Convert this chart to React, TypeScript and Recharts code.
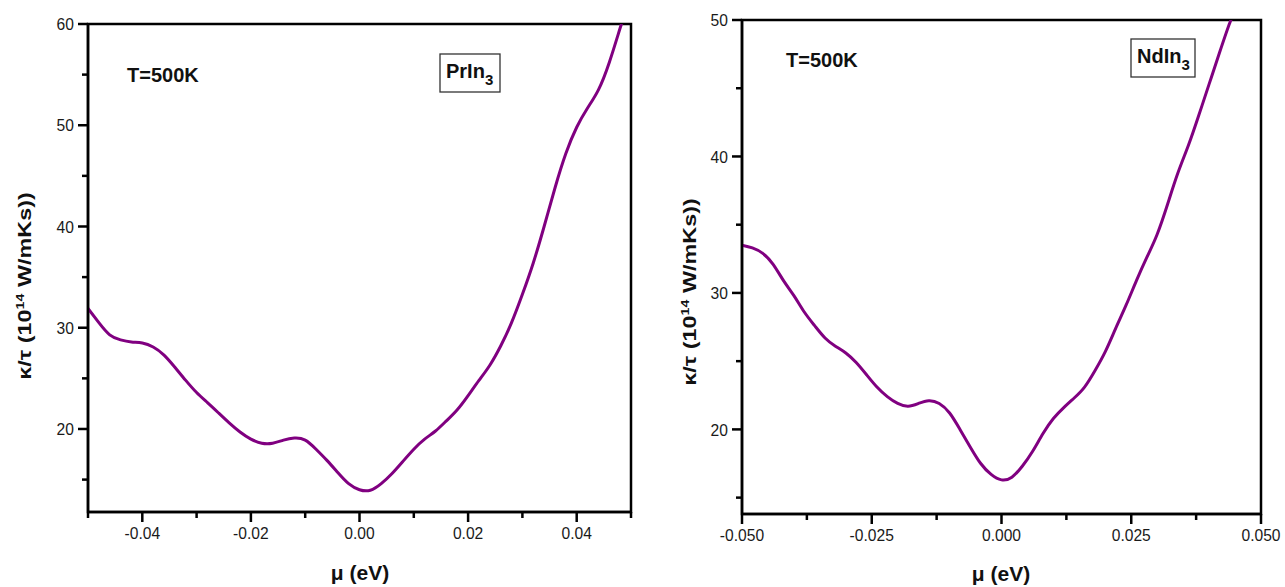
import React from 'react';
import { LineChart, Line, XAxis, YAxis, ReferenceArea } from 'recharts';

// ---------- PrIn3 panel ----------
const prMu = [
  -0.05, -0.048, -0.046, -0.044, -0.042, -0.04, -0.038, -0.036, -0.034, -0.032,
  -0.03, -0.028, -0.026, -0.024, -0.022, -0.02, -0.018, -0.016, -0.014, -0.012,
  -0.01, -0.008, -0.006, -0.004, -0.002, 0, 0.002, 0.004, 0.006, 0.008,
  0.01, 0.012, 0.014, 0.016, 0.018, 0.02, 0.022, 0.024, 0.026, 0.028,
  0.03, 0.032, 0.034, 0.036, 0.038, 0.04, 0.042, 0.044, 0.046, 0.048, 0.0483,
];
const prKappa = [
  31.9, 30.5, 29.3, 28.8, 28.6, 28.5, 28.1, 27.3, 26.1, 24.8,
  23.6, 22.6, 21.6, 20.6, 19.7, 19.0, 18.6, 18.6, 18.9, 19.1,
  18.9, 18.0, 16.9, 15.7, 14.6, 14.0, 13.95, 14.6, 15.6, 16.8,
  18.0, 19.0, 19.8, 20.8, 21.9, 23.3, 24.8, 26.3, 28.2, 30.5,
  33.3, 36.4, 40.0, 43.8, 47.2, 49.8, 51.7, 53.5, 56.2, 59.6, 60.0,
];
const prXDomain = [-0.05, 0.05];
const prYDomain = [11.8, 60];
const prXTicks = [-0.05, -0.04, -0.03, -0.02, -0.01, 0, 0.01, 0.02, 0.03, 0.04, 0.05];
const prXMajor = [-0.04, -0.02, 0, 0.02, 0.04];
const prXLabels = ['-0.04', '-0.02', '0.00', '0.02', '0.04'];
const prYTicks = [15, 20, 25, 30, 35, 40, 45, 50, 55, 60];
const prYMajor = [20, 30, 40, 50, 60];
const prYLabels = ['20', '30', '40', '50', '60'];

// ---------- NdIn3 panel ----------
const ndMu = [
  -0.05, -0.048, -0.046, -0.044, -0.042, -0.04, -0.038, -0.036, -0.034, -0.032,
  -0.03, -0.028, -0.026, -0.024, -0.022, -0.02, -0.018, -0.016, -0.014, -0.012,
  -0.01, -0.008, -0.006, -0.004, -0.002, 0, 0.002, 0.004, 0.006, 0.008,
  0.01, 0.012, 0.014, 0.016, 0.018, 0.02, 0.022, 0.024, 0.026, 0.028,
  0.03, 0.032, 0.034, 0.036, 0.038, 0.04, 0.042, 0.044, 0.0445,
];
const ndKappa = [
  33.5, 33.3, 32.9, 32.1, 30.9, 29.8, 28.6, 27.6, 26.7, 26.1,
  25.6, 24.9, 24.0, 23.1, 22.4, 21.9, 21.7, 21.9, 22.1, 21.9,
  21.2, 20.0, 18.7, 17.5, 16.7, 16.3, 16.5, 17.3, 18.4, 19.7,
  20.8, 21.6, 22.3, 23.1, 24.3, 25.7, 27.4, 29.1, 30.9, 32.6,
  34.3, 36.5, 38.8, 40.8, 43.0, 45.3, 47.6, 49.8, 50.0,
];
const ndXDomain = [-0.05, 0.05];
const ndYDomain = [13.8, 50];
const ndXTicks = [-0.05, -0.0375, -0.025, -0.0125, 0, 0.0125, 0.025, 0.0375, 0.05];
const ndXMajor = [-0.05, -0.025, 0, 0.025, 0.05];
const ndXLabels = ['-0.050', '-0.025', '0.000', '0.025', '0.050'];
const ndYTicks = [15, 20, 25, 30, 35, 40, 45, 50];
const ndYMajor = [20, 30, 40, 50];
const ndYLabels = ['20', '30', '40', '50'];

const prData = prMu.map((mu, i) => ({ mu, k: prKappa[i] }));
const ndData = ndMu.map((mu, i) => ({ mu, k: ndKappa[i] }));

const FONT = '"Liberation Sans", Arial, sans-serif';
const CURVE = '#800080';
const FRAME_W = 2.5;

const findMajor = (majors: number[], v: number) =>
  majors.findIndex((m) => Math.abs(m - v) < 1e-9);

const makeXTick = (majors: number[], labels: string[]) => (props: any) => {
  const { x, y, payload } = props;
  const i = findMajor(majors, payload.value);
  const major = i >= 0;
  return (
    <g>
      <line x1={x} x2={x} y1={y} y2={y + (major ? 10 : 6)} stroke="#000" strokeWidth={FRAME_W} />
      {major && (
        <text
          transform={`translate(${x},${y + 15}) scale(0.92,1)`}
          dy="0.71em"
          textAnchor="middle"
          fontFamily={FONT}
          fontSize={17}
          fill="#1a1a1a"
        >
          {labels[i]}
        </text>
      )}
    </g>
  );
};

const makeYTick = (majors: number[], labels: string[]) => (props: any) => {
  const { x, y, payload } = props;
  const i = findMajor(majors, payload.value);
  const major = i >= 0;
  return (
    <g>
      <line x1={x} x2={x - (major ? 10 : 6)} y1={y} y2={y} stroke="#000" strokeWidth={FRAME_W} />
      {major && (
        <text
          transform={`translate(${x - 14},${y}) scale(0.92,1)`}
          dy="0.36em"
          textAnchor="end"
          fontFamily={FONT}
          fontSize={17}
          fill="#1a1a1a"
        >
          {labels[i]}
        </text>
      )}
    </g>
  );
};

type PanelProps = {
  data: { mu: number; k: number }[];
  xDomain: number[];
  yDomain: number[];
  xTicks: number[];
  yTicks: number[];
  xTick: any;
  yTick: any;
  width: number;
  margin: { top: number; right: number; bottom: number; left: number };
};

const Panel = ({ data, xDomain, yDomain, xTicks, yTicks, xTick, yTick, width, margin }: PanelProps) => (
  <LineChart width={width} height={587} data={data} margin={margin}>
    <ReferenceArea
      x1={xDomain[0]}
      x2={xDomain[1]}
      y1={yDomain[0]}
      y2={yDomain[1]}
      fill="none"
      fillOpacity={0}
      stroke="#000"
      strokeWidth={FRAME_W}
      ifOverflow="visible"
    />
    <XAxis
      dataKey="mu"
      type="number"
      domain={xDomain}
      ticks={xTicks}
      interval={0}
      allowDataOverflow
      tickLine={false}
      tickSize={0}
      tickMargin={0}
      tick={xTick}
      axisLine={{ stroke: '#000', strokeWidth: FRAME_W }}
      height={50}
    />
    <YAxis
      type="number"
      domain={yDomain}
      ticks={yTicks}
      interval={0}
      allowDataOverflow
      tickLine={false}
      tickSize={0}
      tickMargin={0}
      tick={yTick}
      axisLine={{ stroke: '#000', strokeWidth: FRAME_W }}
      width={60}
    />
    <Line
      type="natural"
      dataKey="k"
      stroke={CURVE}
      strokeWidth={3}
      dot={false}
      activeDot={false}
      isAnimationActive={false}
    />
  </LineChart>
);

const YTitle = ({ x, y }: { x: number; y: number }) => (
  <text
    transform={`translate(${x},${y}) rotate(-90) scale(1.3,1)`}
    textAnchor="middle"
    fontFamily={FONT}
    fontWeight="bold"
    fontSize={18}
    fill="#111"
  >
    κ/τ (10
    <tspan dy={-7} fontSize={11}>14</tspan>
    <tspan dy={7}> W/mKs))</tspan>
  </text>
);

const XTitle = ({ x, y }: { x: number; y: number }) => (
  <text x={x} y={y} textAnchor="middle" fontFamily={FONT} fontWeight="bold" fontSize={21} fill="#111">
    μ (eV)
  </text>
);

const Compound = ({ x, y, base, w }: { x: number; y: number; base: string; w: number }) => (
  <g>
    <rect x={x} y={y} width={w} height={38} fill="#fff" stroke="#333" strokeWidth={1.3} />
    <text x={x + 6} y={y + 24} fontFamily={FONT} fontWeight="bold" fontSize={20} fill="#111">
      {base}
      <tspan dy={7} fontSize={15}>3</tspan>
    </text>
  </g>
);

export default function App() {
  return (
    <div style={{ position: 'absolute', left: 0, top: 0, width: 1285, height: 587, background: '#fff', overflow: 'hidden' }}>
      <div style={{ position: 'absolute', left: 0, top: 0 }}>
        <Panel
          data={prData}
          xDomain={prXDomain}
          yDomain={prYDomain}
          xTicks={prXTicks}
          yTicks={prYTicks}
          xTick={makeXTick(prXMajor, prXLabels)}
          yTick={makeYTick(prYMajor, prYLabels)}
          width={645}
          margin={{ top: 24, right: 14, bottom: 25, left: 28 }}
        />
      </div>
      <div style={{ position: 'absolute', left: 645, top: 0 }}>
        <Panel
          data={ndData}
          xDomain={ndXDomain}
          yDomain={ndYDomain}
          xTicks={ndXTicks}
          yTicks={ndYTicks}
          xTick={makeXTick(ndXMajor, ndXLabels)}
          yTick={makeYTick(ndYMajor, ndYLabels)}
          width={640}
          margin={{ top: 20, right: 24, bottom: 23, left: 37 }}
        />
      </div>
      <svg
        width={1285}
        height={587}
        style={{ position: 'absolute', left: 0, top: 0, pointerEvents: 'none' }}
      >
        <YTitle x={31} y={286} />
        <YTitle x={696} y={292} />
        <XTitle x={360} y={580} />
        <XTitle x={1001} y={581} />
        <text x={127} y={82} fontFamily={FONT} fontWeight="bold" fontSize={20} fill="#111">T=500K</text>
        <text x={786} y={67} fontFamily={FONT} fontWeight="bold" fontSize={20} fill="#111">T=500K</text>
        <Compound x={440} y={54} base="PrIn" w={60} />
        <Compound x={1131} y={39} base="NdIn" w={64} />
      </svg>
    </div>
  );
}
